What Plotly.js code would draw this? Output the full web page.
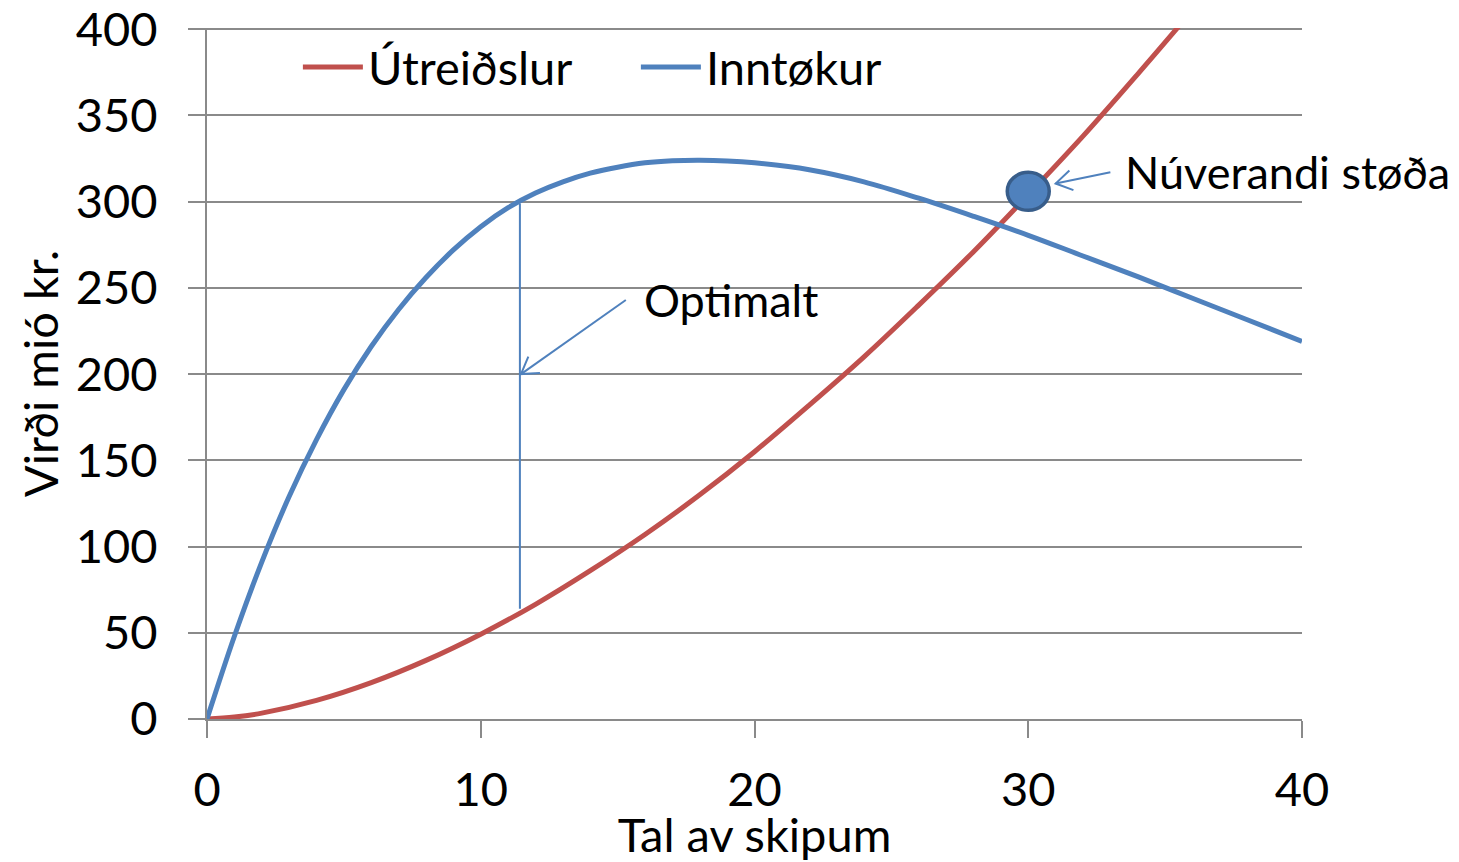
<!DOCTYPE html>
<html>
<head>
<meta charset="utf-8">
<script src="https://cdn.plot.ly/plotly-3.0.1.min.js"></script>
<style>
  html, body { margin: 0; padding: 0; background: #ffffff; }
  #chart { width: 1459px; height: 862px; }
</style>
</head>
<body>
<div id="chart"></div>
<script>
// ---- Data ----
const seriesNames = ["Útreiðslur", "Inntøkur"];

// Útreiðslur (costs)
const costShips  = [0, 1, 2, 4, 6, 8, 10, 12, 14, 16, 18, 20, 22, 24, 26, 28, 30, 32, 34, 36];
const costValues = [0, 1.1, 3.4, 10.8, 21.1, 34, 49.2, 66.5, 86, 107, 130, 155, 182, 210, 240, 271, 304, 338, 374, 411];

// Inntøkur (revenues)
const revenueShips  = [0, 1, 2, 3, 4, 5, 6, 7, 8, 9, 10, 11, 12, 13, 14, 15, 16, 17, 18, 19, 20, 22, 24, 26, 28, 30, 32, 34, 36, 38, 40];
const revenueValues = [0, 48, 91, 129, 162, 191, 216, 237.5, 256, 272, 285.5, 296.5, 305, 311.5, 316.5, 320, 322.5, 323.7, 324, 323.6, 322.5, 318.5, 311.5, 302, 291.5, 280.5, 268.5, 256.5, 244, 231.5, 219];

// Optimal point (vertical line between the curves)
const optimalShips = [11.43];
const optimalRange = [64, 299];

// Current state (Núverandi støða)
const currentShips = [30];
const currentValue = [306];

// Annotation texts and anchor values
const labelTexts = ["Optimalt", "Núverandi støða"];
const labelX = [15.9, 33.45];
const labelY = [243, 317];
// Arrows: [tailX, tailY, headX, headY]
const arrowOptimal = [15.3, 243, 11.47, 200];
const arrowCurrent = [33.0, 317, 31.0, 310.5];

const xTicks = [0, 10, 20, 30, 40];
const yTicks = [0, 50, 100, 150, 200, 250, 300, 350, 400];

const axisTitles = { x: "Tal av skipum", y: "Virði mió kr." };

// ---- Styling ----
const RED = "#C0504D";
const BLUE = "#4F81BD";
const DARKBLUE = "#385D8A";
const GRID = "#8a8a8a";
const FONT = "Lato, 'Open Sans', sans-serif";
const FS = 47;
const FS_NOTE = 45;

const W = 1459, H = 862;
const M = { l: 207, r: 157, t: 28, b: 143 };
const xRange = [0, 40], yRange = [0, 400.7];
const pxX = (W - M.l - M.r) / (xRange[1] - xRange[0]);
const pxY = (H - M.t - M.b) / (yRange[1] - yRange[0]);

function arrowShapes(a) {
  const [tx, ty, hx, hy] = a;
  const shapes = [];
  shapes.push({
    type: "line", xref: "x", yref: "y",
    x0: tx, y0: ty, x1: hx, y1: hy,
    line: { color: BLUE, width: 2 }
  });
  // open V head, built in pixels around the head point
  const dx = (hx - tx) * pxX, dy = (hy - ty) * pxY;
  const len = Math.hypot(dx, dy);
  const bx = -dx / len, by = -dy / len;
  const ang = 32 * Math.PI / 180, L = 19;
  const c = Math.cos(ang), s = Math.sin(ang);
  const a1x = (bx * c - by * s) * L, a1y = (bx * s + by * c) * L;
  const a2x = (bx * c + by * s) * L, a2y = (-bx * s + by * c) * L;
  shapes.push({
    type: "path", xref: "x", yref: "y",
    xsizemode: "pixel", ysizemode: "pixel",
    xanchor: hx, yanchor: hy,
    path: `M ${a1x.toFixed(2)},${a1y.toFixed(2)} L 0,0 L ${a2x.toFixed(2)},${a2y.toFixed(2)}`,
    line: { color: BLUE, width: 2 }
  });
  return shapes;
}

const traces = [
  {
    type: "scatter", mode: "lines", name: seriesNames[0],
    x: costShips, y: costValues,
    line: { color: RED, width: 5, shape: "spline" },
    hoverinfo: "x+y"
  },
  {
    type: "scatter", mode: "lines", name: seriesNames[1],
    x: revenueShips, y: revenueValues,
    line: { color: BLUE, width: 5, shape: "spline" },
    hoverinfo: "x+y"
  }
];

const shapes = [
  {
    type: "line", xref: "x", yref: "y",
    x0: optimalShips[0], x1: optimalShips[0],
    y0: optimalRange[0], y1: optimalRange[1],
    line: { color: BLUE, width: 2 }
  },
  ...arrowShapes(arrowOptimal),
  ...arrowShapes(arrowCurrent),
  {
    type: "circle", xref: "x", yref: "y",
    xsizemode: "pixel", ysizemode: "pixel",
    xanchor: currentShips[0], yanchor: currentValue[0],
    x0: -21, x1: 21, y0: -19, y1: 19,
    fillcolor: BLUE, line: { color: DARKBLUE, width: 3.5 },
    layer: "above"
  }
];

const annotations = labelTexts.map((t, i) => ({
  text: t, x: labelX[i], y: labelY[i], xref: "x", yref: "y",
  xanchor: "left", yanchor: "middle", showarrow: false,
  font: { family: FONT, size: FS_NOTE, color: "#000000" }
}));

const layout = {
  width: W, height: H,
  margin: M,
  paper_bgcolor: "#ffffff", plot_bgcolor: "#ffffff",
  font: { family: FONT, size: FS, color: "#000000" },
  showlegend: true,
  legend: {
    orientation: "h", x: 0.083, y: 0.997, xanchor: "left", yanchor: "top",
    bgcolor: "rgba(0,0,0,0)", font: { family: FONT, size: FS, color: "#000000" },
    itemwidth: 60, entrywidth: 263, tracegroupgap: 0
  },
  xaxis: {
    range: xRange, tickvals: xTicks, ticktext: xTicks.map(String),
    showgrid: false, zeroline: false,
    showline: true, linecolor: GRID, linewidth: 2,
    ticks: "outside", ticklen: 17, tickwidth: 2, tickcolor: GRID,
    ticklabelstandoff: 12, ticklabeloverflow: "allow",
    tickfont: { family: FONT, size: FS, color: "#000000" },
    title: { text: axisTitles.x, standoff: 0, font: { family: FONT, size: FS, color: "#000000" } },
    fixedrange: true
  },
  yaxis: {
    range: yRange, tickvals: yTicks, ticktext: yTicks.map(String),
    showgrid: true, gridcolor: GRID, gridwidth: 2,
    zeroline: false,
    showline: true, linecolor: GRID, linewidth: 2,
    ticks: "outside", ticklen: 17, tickwidth: 2, tickcolor: GRID,
    ticklabelstandoff: 21, ticklabeloverflow: "allow",
    tickfont: { family: FONT, size: FS, color: "#000000" },
    title: { text: axisTitles.y, standoff: 2, font: { family: FONT, size: FS, color: "#000000" } },
    fixedrange: true
  },
  shapes: shapes,
  annotations: annotations
};

Plotly.newPlot("chart", traces, layout, { displayModeBar: false, staticPlot: false });
</script>
</body>
</html>
